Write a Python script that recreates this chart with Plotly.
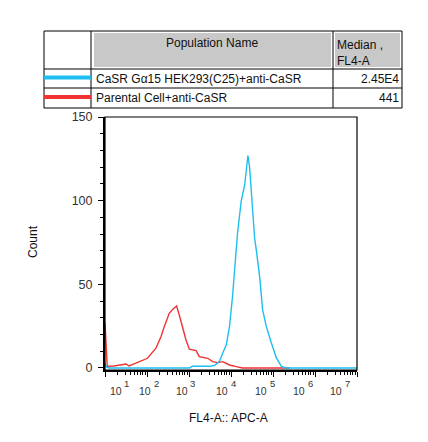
import plotly.graph_objects as go

# ---------------- data ----------------
population_names = ["CaSR Gα15 HEK293(C25)+anti-CaSR", "Parental Cell+anti-CaSR"]
median_labels = ["2.45E4", "441"]
series_colors = ["#1EBEF0", "#F03232"]

casr_fl4 = [10, 10.9, 12.5, 1018, 1202, 3070, 4036, 5309, 6368, 7686, 9204, 10860,
            13300, 14310, 17550, 21040, 23100, 25240, 27720, 30920, 36480, 40080,
            48080, 56650, 69480, 91460, 120500, 158500, 200900, 1e7]
casr_count = [2.5, 0.5, 0, 0, 1, 1, 1.5, 4, 9, 13.7, 24.7, 42.6,
              70.5, 80.7, 100, 109, 118, 127, 120, 104.6, 77.7, 70.5,
              54.6, 34.7, 24.7, 14.9, 6, 1, 0, 0]

parental_fl4 = [10, 10.6, 11.3, 16.4, 24, 31.3, 37.5, 65, 102.6, 163, 215, 257, 339,
                406, 507, 587, 705, 849, 1018, 1473, 1767, 2328, 2793, 3675, 4842,
                6370, 9200, 13330, 18840, 251000]
parental_count = [27, 14, 1, 1.2, 1.8, 2.4, 1.2, 3.8, 5.8, 11.8, 18.7, 24.7, 32.7,
                  35, 37, 31.7, 23.7, 16.7, 11.2, 10.4, 6.8, 6.4, 5.8, 3.8, 3.2,
                  3.8, 1.8, 0.8, 0, 0]

y_ticks = [0, 50, 100, 150]
x_decades = [1, 2, 3, 4, 5, 6, 7]
# right edge (page px) of each "10" base as drawn in the reference
x_label_right_px = [121.7, 151, 187.7, 228.3, 267.3, 305, 342.3]

FONT = "Liberation Sans, Arial, sans-serif"

# ---------------- geometry ----------------
OFF = 8                      # page body margin
W, H = 420, 434
PL, PR, PT, PB = 105, 357, 117, 370   # plot area in page pixels
L, T = PL - OFF, PT - OFF
R, B = W + OFF - PR, H + OFF - PB
PW, PH = PR - PL, PB - PT


def px(xp):
    return (xp - PL) / PW


def py(yp):
    return (PB - yp) / PH


def pxlog(xp):
    return 1 + 6 * (xp - PL) / PW


fig = go.Figure()
fig.add_trace(go.Scatter(x=parental_fl4, y=parental_count, mode="lines",
                         line=dict(color=series_colors[1], width=1.4),
                         name=population_names[1], showlegend=False))
fig.add_trace(go.Scatter(x=casr_fl4, y=casr_count, mode="lines",
                         line=dict(color=series_colors[0], width=1.4),
                         name=population_names[0], showlegend=False))

shapes = []
annotations = []

# plot frame (thin top/right)
shapes.append(dict(type="rect", xref="paper", yref="paper", x0=0, x1=1, y0=0, y1=1,
                   line=dict(color="black", width=1.2), layer="above"))

# ---------------- table ----------------
tx0, tx1 = 44, 402
tc1, tc2 = 91, 333
ty0, yh, yr1, ty1 = 31, 69, 88, 108
grey = "#C8C8C8"
shapes.append(dict(type="rect", xref="paper", yref="paper",
                   x0=px(tc1 + 3), x1=px(tc2 - 2), y0=py(ty0 + 2), y1=py(yh - 2),
                   fillcolor=grey, line=dict(width=0), layer="below"))
shapes.append(dict(type="rect", xref="paper", yref="paper",
                   x0=px(tc2 + 2), x1=px(tx1 - 2), y0=py(ty0 + 2), y1=py(yh - 2),
                   fillcolor=grey, line=dict(width=0), layer="below"))
shapes.append(dict(type="rect", xref="paper", yref="paper",
                   x0=px(tx0), x1=px(tx1), y0=py(ty0), y1=py(ty1),
                   line=dict(color="black", width=1)))
for xv in (tc1, tc2):
    shapes.append(dict(type="line", xref="paper", yref="paper",
                       x0=px(xv), x1=px(xv), y0=py(ty0), y1=py(ty1),
                       line=dict(color="black", width=1)))
for yv in (yh, yr1):
    shapes.append(dict(type="line", xref="paper", yref="paper",
                       x0=px(tx0), x1=px(tx1), y0=py(yv), y1=py(yv),
                       line=dict(color="black", width=1)))

row_centres = [(yh + yr1) / 2, (yr1 + ty1) / 2]
for name, med, col, yc in zip(population_names, median_labels, series_colors, row_centres):
    shapes.append(dict(type="line", xref="paper", yref="paper",
                       x0=px(tx0), x1=px(tc1), y0=py(yc - 1), y1=py(yc - 1),
                       line=dict(color=col, width=4)))
    annotations.append(dict(xref="paper", yref="paper", x=px(tc1 + 3), y=py(yc),
                            text=name, showarrow=False, xanchor="left", yanchor="middle",
                            font=dict(family=FONT, size=12, color="#111")))
    annotations.append(dict(xref="paper", yref="paper", x=px(tx1 - 1), y=py(yc),
                            text=med, showarrow=False, xanchor="right", yanchor="middle",
                            font=dict(family=FONT, size=12, color="#111")))

annotations.append(dict(xref="paper", yref="paper", x=px((tc1 + tc2) / 2), y=py(43),
                        text="Population Name", showarrow=False, xanchor="center",
                        yanchor="middle", font=dict(family=FONT, size=12, color="#111")))
annotations.append(dict(xref="paper", yref="paper", x=px(tc2 + 2), y=py(45),
                        text="Median ,", showarrow=False, xanchor="left",
                        yanchor="middle", font=dict(family=FONT, size=12, color="#111")))
annotations.append(dict(xref="paper", yref="paper", x=px(tc2 + 2), y=py(61),
                        text="FL4-A", showarrow=False, xanchor="left",
                        yanchor="middle", font=dict(family=FONT, size=12, color="#111")))

# ---------------- x tick labels (10 with raised exponent) ----------------
for d, xr in zip(x_decades, x_label_right_px):
    annotations.append(dict(xref="x", yref="paper", x=pxlog(xr), y=py(390.5),
                            text="10", showarrow=False, xanchor="right",
                            yanchor="middle", borderpad=0, xshift=1,
                            font=dict(family=FONT, size=10.5, color="#333")))
    annotations.append(dict(xref="x", yref="paper", x=pxlog(xr + 2.5), y=py(383.5),
                            text=str(d), showarrow=False, xanchor="left",
                            yanchor="middle", borderpad=0, xshift=-1,
                            font=dict(family=FONT, size=9.5, color="#333")))

# axis titles
annotations.append(dict(xref="paper", yref="paper", x=px(228), y=py(418),
                        text="FL4-A:: APC-A", showarrow=False, xanchor="center",
                        yanchor="middle", font=dict(family=FONT, size=12, color="#111")))
annotations.append(dict(xref="paper", yref="paper", x=px(33), y=py(242),
                        text="Count", showarrow=False, textangle=-90, xanchor="center",
                        yanchor="middle", font=dict(family=FONT, size=12, color="#111")))

minor_vals = [k * 10 ** d for d in range(1, 7) for k in range(2, 10)]

fig.update_layout(
    width=W, height=H,
    margin=dict(l=L, r=R, t=T, b=B, pad=0),
    paper_bgcolor="white", plot_bgcolor="white",
    shapes=shapes, annotations=annotations,
    showlegend=False,
    xaxis=dict(type="log", range=[1, 7], showgrid=False, zeroline=False,
               showline=True, linecolor="black", linewidth=2,
               tickvals=[10 ** d for d in x_decades], showticklabels=False,
               ticks="outside", ticklen=5, tickwidth=1, tickcolor="black",
               minor=dict(tickvals=minor_vals, ticks="outside", ticklen=3,
                          tickwidth=1, tickcolor="black", showgrid=False)),
    yaxis=dict(range=[-1.2, 150], showgrid=False, zeroline=False,
               showline=True, linecolor="black", linewidth=2,
               tickvals=y_ticks, ticktext=[str(v) for v in y_ticks],
               ticks="outside", ticklen=5, tickwidth=1, tickcolor="black",
               ticklabelstandoff=3,
               tickfont=dict(family=FONT, size=12.5, color="#333"),
               minor=dict(dtick=10, ticks="outside", ticklen=3, tickwidth=1,
                          tickcolor="black", showgrid=False)),
)

fig.write_html("out.html")
